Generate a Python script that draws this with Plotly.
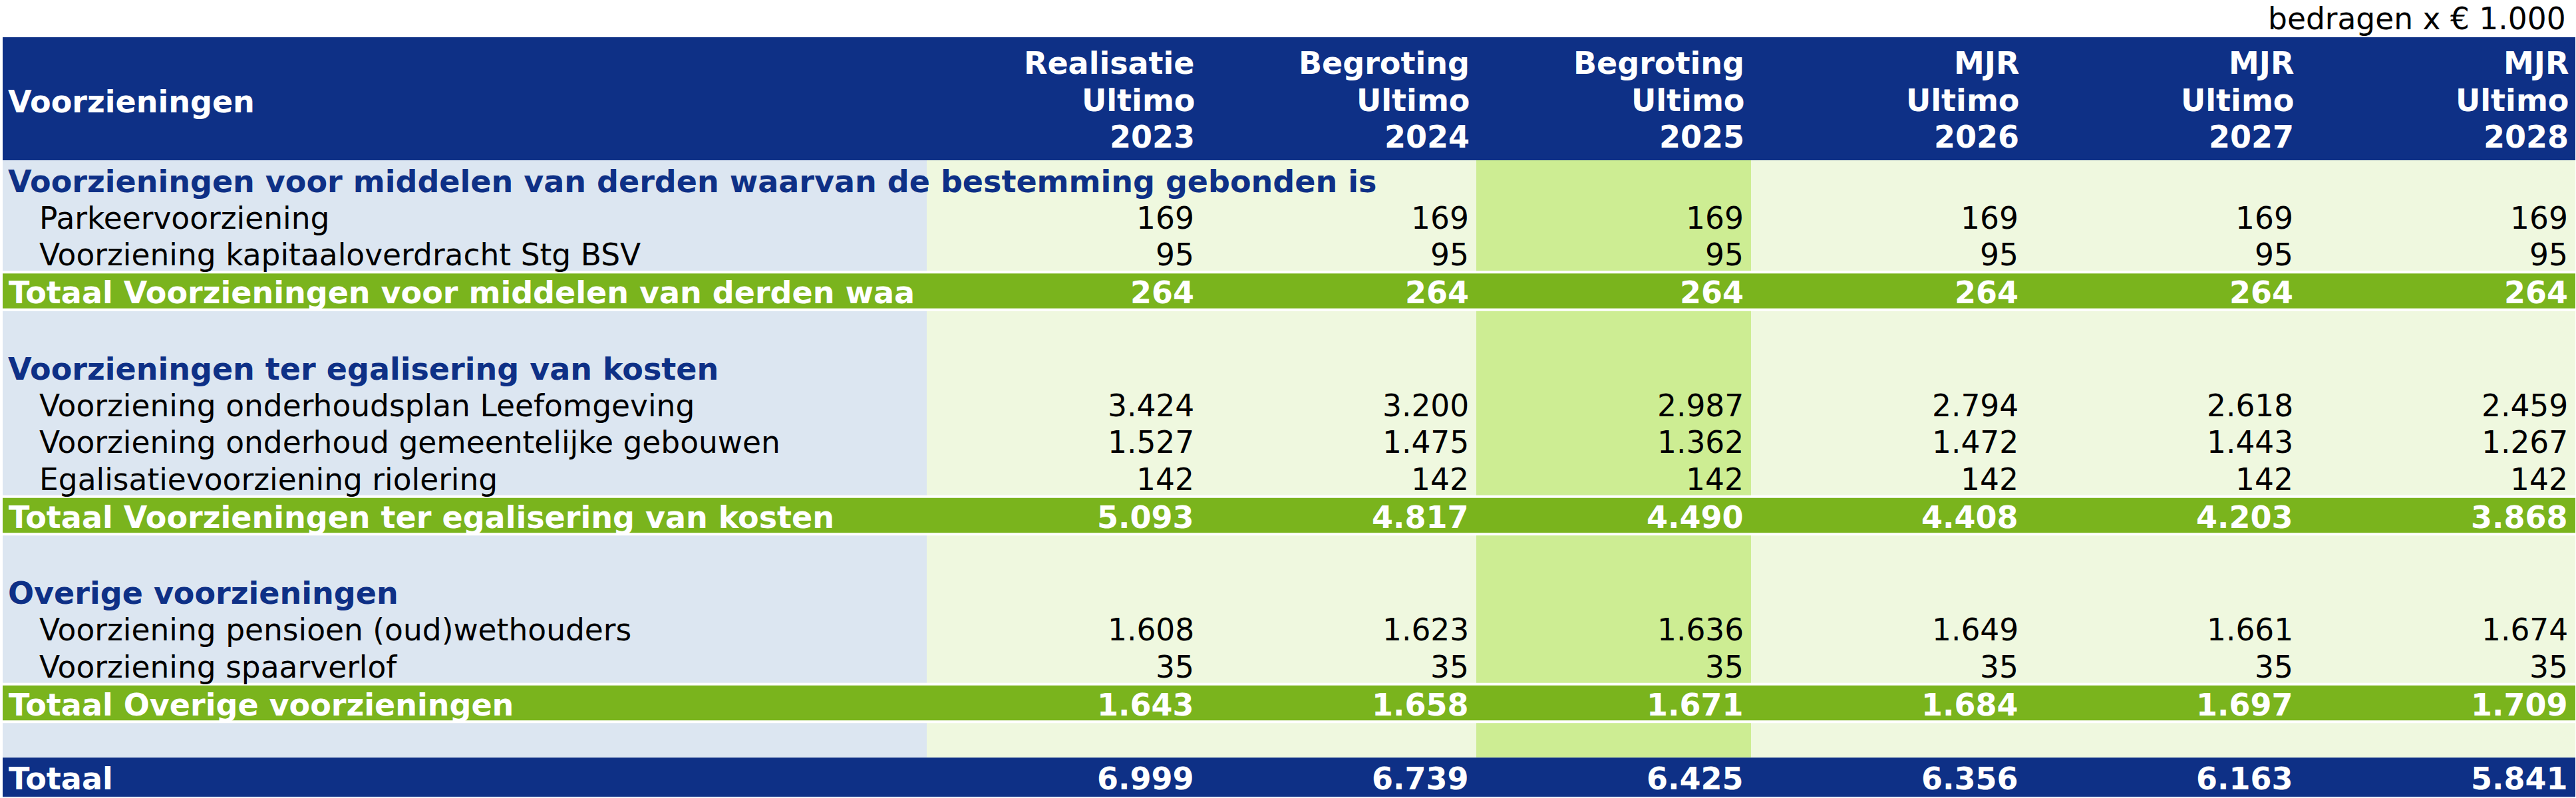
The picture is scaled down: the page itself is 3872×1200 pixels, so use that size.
import plotly.graph_objects as go

# ---------------- data ----------------
unit_note = "bedragen x € 1.000"
header_label = "Voorzieningen"
col_line1 = ["Realisatie", "Begroting", "Begroting", "MJR", "MJR", "MJR"]
col_line2 = ["Ultimo", "Ultimo", "Ultimo", "Ultimo", "Ultimo", "Ultimo"]
col_years = ["2023", "2024", "2025", "2026", "2027", "2028"]

sec1_title = "Voorzieningen voor middelen van derden waarvan de bestemming gebonden is"
sec1_labels = ["Parkeervoorziening", "Voorziening kapitaaloverdracht Stg BSV"]
parkeer = [169, 169, 169, 169, 169, 169]
kapitaal_bsv = [95, 95, 95, 95, 95, 95]
sec1_total_label = "Totaal Voorzieningen voor middelen van derden waa"
sec1_total = [264, 264, 264, 264, 264, 264]

sec2_title = "Voorzieningen ter egalisering van kosten"
sec2_labels = ["Voorziening onderhoudsplan Leefomgeving",
               "Voorziening onderhoud gemeentelijke gebouwen",
               "Egalisatievoorziening riolering"]
leefomgeving = [3424, 3200, 2987, 2794, 2618, 2459]
gebouwen = [1527, 1475, 1362, 1472, 1443, 1267]
riolering = [142, 142, 142, 142, 142, 142]
sec2_total_label = "Totaal Voorzieningen ter egalisering van kosten"
sec2_total = [5093, 4817, 4490, 4408, 4203, 3868]

sec3_title = "Overige voorzieningen"
sec3_labels = ["Voorziening pensioen (oud)wethouders", "Voorziening spaarverlof"]
pensioen = [1608, 1623, 1636, 1649, 1661, 1674]
spaarverlof = [35, 35, 35, 35, 35, 35]
sec3_total_label = "Totaal Overige voorzieningen"
sec3_total = [1643, 1658, 1671, 1684, 1697, 1709]

grand_label = "Totaal"
grand_total = [6999, 6739, 6425, 6356, 6163, 5841]

highlight_col = 2  # Begroting 2025

# ---------------- style / layout ----------------
W, H = 3872, 1200
FONT = "DejaVu Sans"
FS_REG = 45.5
FS_BOLD = 46
BLUE = "#0E3086"
LIGHT_BLUE = "#DCE6F1"
LIGHT_GREEN = "#EFF8DF"
MID_GREEN = "#CDED93"
GREEN = "#7AB41D"

T_LEFT, T_RIGHT, LABEL_RIGHT = 4, 3871, 1393
HEAD_TOP, HEAD_BOT = 56, 241
NCOL = len(col_years)
COL_W = (T_RIGHT - LABEL_RIGHT) / NCOL
HEIGHTS = {"heading": 55.4, "item": 55.4, "blank": 55.4,
           "total": 52.5, "spacer": 52.0, "grand": 59.0}
GAP = 4

def fmt(v):
    return f"{v:,}".replace(",", ".")

rows = [("heading", sec1_title, None)]
rows += [("item", l, v) for l, v in zip(sec1_labels, [parkeer, kapitaal_bsv])]
rows += [("total", sec1_total_label, sec1_total)]
rows += [("blank", "", None), ("heading", sec2_title, None)]
rows += [("item", l, v) for l, v in zip(sec2_labels, [leefomgeving, gebouwen, riolering])]
rows += [("total", sec2_total_label, sec2_total)]
rows += [("blank", "", None), ("heading", sec3_title, None)]
rows += [("item", l, v) for l, v in zip(sec3_labels, [pensioen, spaarverlof])]
rows += [("total", sec3_total_label, sec3_total)]
rows += [("spacer", "", None), ("grand", grand_label, grand_total)]

shapes = []
annotations = []

def rect(x0, x1, y0, y1, color):
    shapes.append(dict(type="rect", xref="x", yref="y", x0=x0, x1=x1, y0=y0, y1=y1,
                       fillcolor=color, line=dict(width=0), layer="below"))

def text(x, y, s, anchor, color, bold):
    annotations.append(dict(x=x, y=y, xref="x", yref="y", text=s, showarrow=False,
                            xanchor=anchor, yanchor="middle", borderpad=0, borderwidth=0,
                            font=dict(family=FONT, size=FS_BOLD if bold else FS_REG,
                                      color=color,
                                      weight="bold" if bold else "normal")))

def col_right(i):
    return LABEL_RIGHT + (i + 1) * COL_W

def col_left(i):
    return LABEL_RIGHT + i * COL_W

# header
rect(T_LEFT, T_RIGHT, HEAD_TOP, HEAD_BOT, BLUE)
hc = (HEAD_TOP + HEAD_BOT) / 2
text(T_LEFT + 8, hc + 4, header_label, "left", "white", True)
for i in range(NCOL):
    for k, s in enumerate([col_line1[i], col_line2[i], col_years[i]]):
        text(col_right(i) - 10, hc + 2 + (k - 1) * 55.5, s, "right", "white", True)
text(T_RIGHT - 14, 28, unit_note, "right", "black", False)

# body
y = HEAD_BOT
block_start = None
for kind, label, vals in rows:
    h = HEIGHTS[kind]
    if kind in ("total", "grand"):
        if block_start is not None:
            rect(T_LEFT, LABEL_RIGHT, block_start, y, LIGHT_BLUE)
            rect(LABEL_RIGHT, T_RIGHT, block_start, y, LIGHT_GREEN)
            rect(col_left(highlight_col), col_right(highlight_col), block_start, y, MID_GREEN)
            block_start = None
        if kind == "total":
            y += GAP
        top, bot = y, y + h
        rect(T_LEFT, T_RIGHT, top, bot, GREEN if kind == "total" else BLUE)
        cy = (top + bot) / 2 + (3 if kind == "total" else 2)
        text(T_LEFT + 9, cy, label, "left", "white", True)
        for i, v in enumerate(vals):
            text(col_right(i) - 11, cy, fmt(v), "right", "white", True)
        y = bot
        if kind == "total":
            y += GAP
    else:
        if block_start is None:
            block_start = y
        top, bot = y, y + h
        cy = (top + bot) / 2 + 4
        if kind == "heading":
            text(T_LEFT + 8, cy, label, "left", BLUE, True)
        elif kind == "item":
            text(T_LEFT + 55, cy, label, "left", "black", False)
            for i, v in enumerate(vals):
                text(col_right(i) - 11, cy, fmt(v), "right", "black", False)
        y = bot

fig = go.Figure()
fig.update_layout(
    width=W, height=H,
    margin=dict(l=0, r=0, t=0, b=0),
    paper_bgcolor="white", plot_bgcolor="white",
    xaxis=dict(range=[0, W], visible=False, fixedrange=True),
    yaxis=dict(range=[H, 0], visible=False, fixedrange=True),
    shapes=shapes, annotations=annotations, showlegend=False,
)
fig.write_html(
    "out.html",
    config={"displayModeBar": False},
    post_script="document.body.style.margin='0';document.body.style.overflow='hidden';",
)
